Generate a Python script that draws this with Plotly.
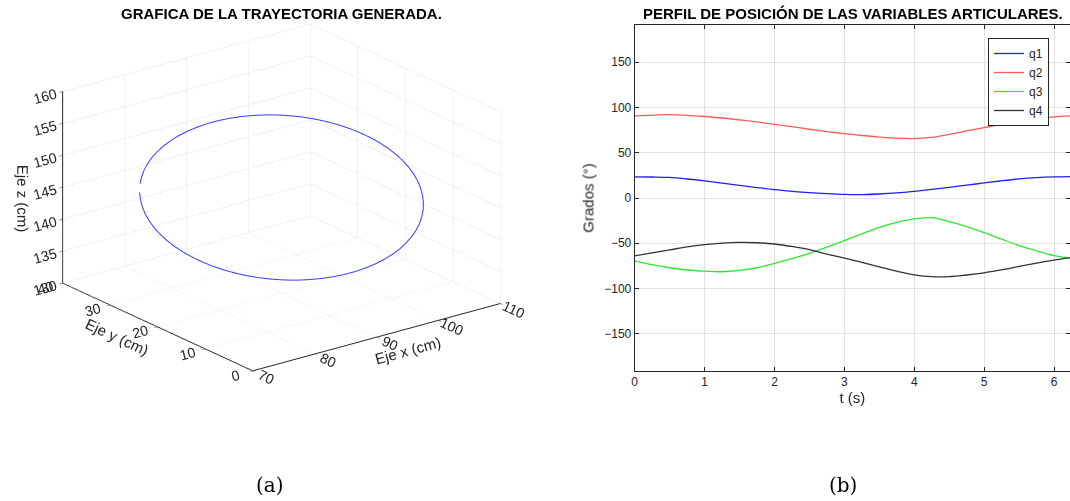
import plotly.graph_objects as go

# ---------- (a) generated trajectory, cm (one sample every 5 degrees) ----------
traj_x = [76.28, 77.14, 78.29, 79.54, 80.87, 82.26, 83.72, 85.22, 86.76, 88.33, 89.90, 91.48,
          93.05, 94.59, 96.10, 97.56, 98.96,
          100.30, 101.56, 102.73, 103.80, 104.77, 105.62, 106.36, 106.97, 107.46, 107.81, 108.02,
          108.10, 108.04, 107.84, 107.51, 107.04, 106.44, 105.72,
          104.88, 103.93, 102.87, 101.71, 100.46, 99.13, 97.74, 96.28, 94.78, 93.24, 91.68,
          90.10, 88.52, 86.95, 85.41, 83.90, 82.44, 81.04,
          79.70, 78.44, 77.27, 76.20, 75.23, 74.38, 73.64, 73.03, 72.55, 72.20, 71.98,
          71.90, 71.96, 72.16, 72.49, 72.96, 73.56, 74.28, 75.12]
traj_y = [31.88, 32.75, 33.76, 34.65, 35.44, 36.10, 36.65, 37.06, 37.35, 37.51, 37.53, 37.42,
          37.18, 36.80, 36.30, 35.67, 34.93,
          34.07, 33.10, 32.04, 30.88, 29.64, 28.33, 26.95, 25.52, 24.05, 22.55, 21.02,
          19.49, 17.97, 16.46, 14.97, 13.53, 12.13, 10.80,
          9.53, 8.34, 7.25, 6.25, 5.35, 4.57, 3.90, 3.35, 2.94, 2.65, 2.49,
          2.47, 2.58, 2.82, 3.20, 3.70, 4.33, 5.07,
          5.93, 6.90, 7.96, 9.12, 10.36, 11.67, 13.05, 14.48, 15.95, 17.45, 18.98,
          20.51, 22.03, 23.54, 25.03, 26.47, 27.87, 29.20, 30.47]
traj_z = [146.69, 147.05, 147.48, 147.90, 148.29, 148.66, 149.01, 149.32, 149.60, 149.84, 150.05, 150.22,
          150.35, 150.43, 150.48, 150.48, 150.45,
          150.37, 150.25, 150.09, 149.90, 149.66, 149.39, 149.09, 148.75, 148.39, 148.00, 147.59,
          147.15, 146.71, 146.25, 145.78, 145.30, 144.82, 144.34,
          143.87, 143.41, 142.95, 142.52, 142.10, 141.71, 141.34, 140.99, 140.68, 140.40, 140.16,
          139.95, 139.78, 139.65, 139.57, 139.52, 139.52, 139.55,
          139.63, 139.75, 139.91, 140.10, 140.34, 140.61, 140.91, 141.25, 141.61, 142.00, 142.41,
          142.85, 143.29, 143.75, 144.22, 144.70, 145.18, 145.66, 146.13]

x_ticks = [70, 80, 90, 100, 110]
y_ticks = [0, 10, 20, 30, 40]
z_ticks = [130, 135, 140, 145, 150, 155, 160]

# ---------- (b) joint position profile, degrees ----------
t = [0, 0.25, 0.5, 0.75, 1.0, 1.25, 1.5, 1.75, 2.0, 2.25, 2.5, 2.75, 3.0,
     3.25, 3.5, 3.75, 4.0, 4.25, 4.5, 4.75, 5.0, 5.25, 5.5, 5.75, 6.0, 6.2832]
q1 = [23.3, 23.2, 22.7, 21.0, 18.9, 16.5, 14.0, 11.5, 9.2, 7.4, 5.9, 4.8, 4.0,
      3.8, 4.4, 5.6, 7.4, 9.5, 11.8, 14.2, 16.6, 19.0, 21.1, 22.5, 23.3, 23.7]
q2 = [90.5, 91.5, 92.0, 91.3, 90.0, 88.3, 86.2, 84.0, 81.4, 78.7, 75.9, 73.3, 71.0,
      69.0, 67.3, 66.0, 65.6, 67.0, 70.3, 74.0, 77.8, 81.5, 85.0, 87.6, 89.5, 90.8]
q3 = [-69.3, -73.5, -77.0, -79.5, -80.8, -81.4, -80.0, -77.0, -72.2, -67.0, -61.1, -54.3, -47.0,
      -39.5, -32.3, -26.8, -23.0, -21.7, -26.0, -31.5, -38.2, -45.5, -52.6, -58.5, -63.7, -67.0]
q4 = [-63.8, -60.5, -57.3, -54.0, -51.5, -49.8, -49.0, -49.4, -50.8, -53.5, -57.0, -62.0, -66.4,
      -71.0, -76.0, -80.8, -84.8, -86.8, -86.8, -85.0, -82.6, -79.3, -75.6, -72.0, -68.6, -65.2]
series_names = ["q1", "q2", "q3", "q4"]
series_colors = ["#1f1fff", "#ff5a5a", "#2ee82e", "#333333"]
t_ticks = [0, 1, 2, 3, 4, 5, 6]
deg_ticks = [-150, -100, -50, 0, 50, 100, 150]

FONT = "Liberation Sans, Arial, sans-serif"
AXC = "#262626"
GRID = "#e2e2e2"

fig = go.Figure()

fig.add_trace(go.Scatter3d(x=traj_x, y=traj_y, z=traj_z, mode="lines",
                           line=dict(color="#3a3aff", width=2),
                           showlegend=False, hoverinfo="skip"))

for name, vals, col in zip(series_names, [q1, q2, q3, q4], series_colors):
    fig.add_trace(go.Scatter(x=t, y=vals, mode="lines", name=name,
                             line=dict(color=col, width=1.3, shape="spline"),
                             xaxis="x", yaxis="y"))

ax3d = dict(showbackground=False, gridcolor=GRID, gridwidth=1,
            showline=True, linecolor=AXC, linewidth=2,
            ticks="outside", ticklen=4, tickcolor=AXC,
            tickfont=dict(family=FONT, size=13, color=AXC),
            showspikes=False, zeroline=False)
t3d = dict(family=FONT, size=15, color=AXC)

S3 = 1.597  # orthographic zoom factor

fig.update_layout(
    width=1070, height=501,
    paper_bgcolor="white", plot_bgcolor="white",
    margin=dict(l=0, r=0, t=0, b=0),
    font=dict(family=FONT, color=AXC),
    scene=dict(
        domain=dict(x=[10 / 1070, 553 / 1070], y=[0.2168, 0.9968]),
        xaxis=dict(ax3d, range=[70, 110], tickvals=x_ticks,
                   title=dict(text="Eje x (cm)", font=t3d)),
        yaxis=dict(ax3d, range=[0, 40], tickvals=y_ticks,
                   title=dict(text="Eje y (cm)", font=t3d)),
        zaxis=dict(ax3d, range=[130, 160], tickvals=z_ticks,
                   title=dict(text="Eje z (cm)", font=t3d)),
        aspectmode="manual", aspectratio=dict(x=S3, y=S3, z=0.6563 * S3),
        camera=dict(eye=dict(x=-1.082, y=-1.409, z=0.673),
                    up=dict(x=0, y=0, z=1), center=dict(x=0, y=0, z=0),
                    projection=dict(type="orthographic")),
        bgcolor="white",
    ),
    xaxis=dict(domain=[634.7 / 1070, 1.0], range=[0, 6.228], tickvals=t_ticks,
               showgrid=True, gridcolor=GRID, zeroline=False,
               showline=True, linecolor=AXC, linewidth=1, mirror="ticks",
               ticks="inside", ticklen=4, tickcolor=AXC,
               tickfont=dict(family=FONT, size=12, color=AXC),
               title=dict(text="t (s)", font=dict(family=FONT, size=15, color=AXC), standoff=4),
               automargin=False, anchor="y"),
    yaxis=dict(domain=[1 - 371 / 501, 1 - 25 / 501], range=[-191, 191], tickvals=deg_ticks,
               showgrid=True, gridcolor=GRID, zeroline=False,
               showline=True, linecolor=AXC, linewidth=1, mirror="ticks",
               ticks="inside", ticklen=4, tickcolor=AXC,
               tickfont=dict(family=FONT, size=12, color=AXC),
               title=dict(text="Grados (°)", font=dict(family=FONT, size=15, color=AXC), standoff=6),
               automargin=False, anchor="x"),
    legend=dict(x=1049 / 1070, xanchor="right", y=1 - 38 / 501, yanchor="top",
                bordercolor=AXC, borderwidth=1, bgcolor="white",
                font=dict(family=FONT, size=12, color=AXC),
                tracegroupgap=0, itemwidth=30),
    annotations=[
        dict(text="<b>GRAFICA DE LA TRAYECTORIA GENERADA.</b>", x=281 / 1070, y=1 - 14 / 501,
             xref="paper", yref="paper", showarrow=False, xanchor="center", yanchor="middle",
             font=dict(family=FONT, size=15, color="black")),
        dict(text="<b>PERFIL DE POSICIÓN DE LAS VARIABLES ARTICULARES.</b>", x=853 / 1070, y=1 - 14 / 501,
             xref="paper", yref="paper", showarrow=False, xanchor="center", yanchor="middle",
             font=dict(family=FONT, size=15, color="black")),
        dict(text="(a)", x=270 / 1070, y=1 - 485 / 501, xref="paper", yref="paper",
             showarrow=False, xanchor="center", yanchor="middle",
             font=dict(family="DejaVu Serif, Liberation Serif, serif", size=20, color="black")),
        dict(text="(b)", x=843 / 1070, y=1 - 485 / 501, xref="paper", yref="paper",
             showarrow=False, xanchor="center", yanchor="middle",
             font=dict(family="DejaVu Serif, Liberation Serif, serif", size=20, color="black")),
    ],
)

fig.write_html("out.html", config={"displayModeBar": False},
               post_script="document.body.style.margin='0';document.body.style.overflow='hidden';")
